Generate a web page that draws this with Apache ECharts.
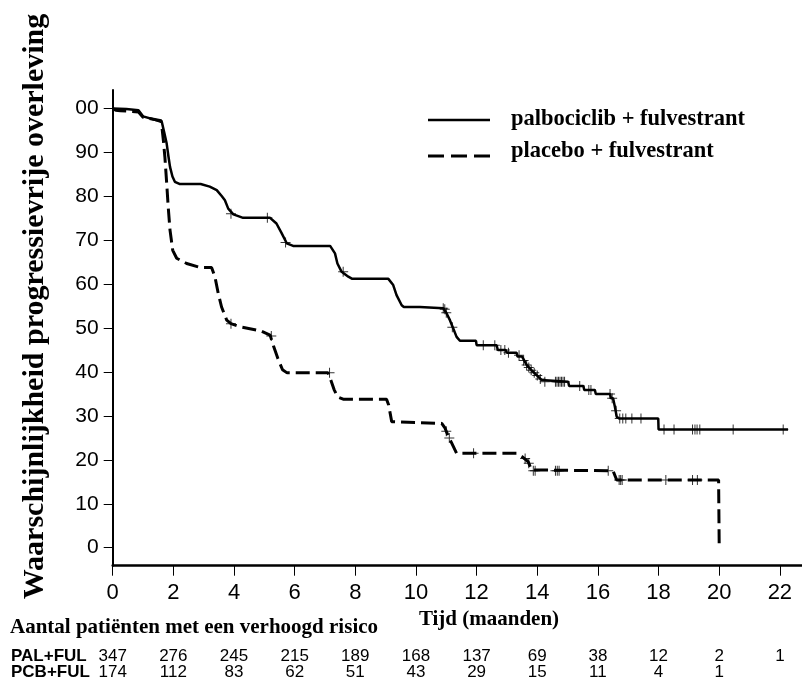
<!DOCTYPE html>
<html>
<head>
<meta charset="utf-8">
<title>Progressievrije overleving</title>
<script src="https://cdn.jsdelivr.net/npm/echarts@6/dist/echarts.min.js"></script>
<style>
  html, body { margin: 0; padding: 0; background: #fff; }
  #chart { width: 802px; height: 682px; }
</style>
</head>
<body>
<div id="chart"></div>
<script>
// Kaplan-Meier curves: [maand, kans %]
const palCurve = [
  [0, 100], [0.45, 99.9], [0.85, 99.6], [1.0, 98.2], [1.45, 97.3], [1.62, 96.9],
  [1.7, 94.5], [1.78, 92], [1.84, 89], [1.89, 86.7], [1.97, 84.5], [2.05, 83.3],
  [2.2, 82.8], [2.9, 82.8], [3.2, 82.2], [3.43, 81.4], [3.6, 80], [3.7, 79.1],
  [3.81, 77.2], [3.98, 75.9], [4.3, 75.1], [5.19, 75.1], [5.4, 73.8], [5.57, 71.6],
  [5.74, 69.3], [5.95, 68.7], [7.17, 68.7], [7.33, 67], [7.41, 64.7], [7.55, 62.8],
  [7.77, 61.7], [7.9, 61.2], [9.09, 61.2], [9.25, 59.8], [9.36, 57.5], [9.53, 55.2],
  [9.6, 54.8], [10.13, 54.8], [10.15, 54.5], [10.9, 54.5], [11.0, 53.5], [11.12, 51.8],
  [11.23, 49.9], [11.34, 48.0], [11.45, 47.1], [11.98, 47.1], [12.0, 46.1], [12.66, 46.1],
  [12.7, 45], [12.96, 45], [13.0, 44.4], [13.32, 44.4], [13.35, 43.5], [13.5, 43.5],
  [13.65, 41.6], [13.81, 40.4], [13.98, 39.3], [14.14, 38.2], [14.2, 37.8], [15.02, 37.8],
  [15.05, 36.8], [15.52, 36.8], [15.55, 35.9], [15.9, 35.9], [15.93, 35], [16.4, 35],
  [16.43, 34], [16.5, 34], [16.56, 32.1], [16.62, 29.8], [16.7, 29.4], [17.99, 29.4],
  [18.0, 26.9], [22.27, 26.9]
]
const pcbCurve = [
  [0, 100], [0.1, 99.6], [0.25, 99.5], [0.85, 99.2], [1.0, 98], [1.3, 97.6], [1.6, 97.2],
  [1.67, 92.8], [1.72, 89], [1.78, 83], [1.83, 77.6], [1.89, 72.3], [1.98, 67.7],
  [2.11, 65.9], [2.44, 64.7], [2.88, 63.8], [3.26, 63.8], [3.37, 61.7], [3.48, 57.9],
  [3.59, 54.8], [3.76, 51.8], [3.9, 51], [4.2, 50.3], [4.86, 49.4], [5.19, 48.4],
  [5.3, 46], [5.45, 43], [5.6, 40.5], [5.75, 39.8], [7.1, 39.8], [7.2, 38], [7.3, 36],
  [7.42, 34.3], [7.6, 33.8], [9.03, 33.8], [9.1, 32.5], [9.2, 28.7], [9.25, 28.3],
  [10.85, 28.3], [10.96, 27.2], [11.07, 25.3], [11.18, 23.8], [11.34, 21.5], [13.32, 21.5],
  [13.5, 20.7], [13.7, 19.6], [13.81, 17.7], [13.85, 17.5], [16.5, 17.5], [16.62, 15.4],
  [19.98, 15.4], [20.0, 0]
]
// gecensureerde patiënten (+)
const palCensor = [
  [3.9, 76], [5.1, 75.1], [5.7, 69.5], [7.6, 62.8], [10.9, 54.5], [10.95, 54.3], [11.0, 53.5],
  [11.2, 50.2], [12.22, 46.1], [12.6, 46.1], [12.8, 45], [12.93, 45], [13.05, 44.4],
  [13.4, 43.8], [13.55, 42.6], [13.65, 41.6], [13.72, 41], [13.8, 40.4], [13.9, 39.8],
  [14.0, 39.2], [14.1, 38.4], [14.25, 37.8], [14.6, 37.8], [14.65, 37.8], [14.7, 37.8],
  [14.75, 37.8], [14.8, 37.8], [14.85, 37.8], [14.9, 37.8], [15.4, 36.8], [15.7, 35.9],
  [15.77, 35.9], [16.4, 35], [16.47, 34], [16.6, 31.2], [16.72, 29.4], [16.82, 29.4],
  [16.92, 29.4], [17.12, 29.4], [17.42, 29.4], [18.18, 26.9], [18.51, 26.9], [19.12, 26.9],
  [19.2, 26.9], [19.27, 26.9], [19.36, 26.9], [20.46, 26.9], [22.11, 26.9]
]
const pcbCensor = [
  [3.9, 51], [5.23, 48.2], [7.15, 39.8], [11.0, 26.5], [11.1, 25], [11.9, 21.5],
  [13.6, 20.3], [13.72, 19.2], [13.87, 17.5], [13.93, 17.5], [14.6, 17.5], [14.66, 17.5],
  [14.72, 17.5], [16.34, 17.5], [16.7, 15.4], [16.75, 15.4], [16.8, 15.4], [18.24, 15.4],
  [19.12, 15.4], [19.28, 15.4]
]
const xTicks = [0, 2, 4, 6, 8, 10, 12, 14, 16, 18, 20, 22]
const yTicks = [0, 10, 20, 30, 40, 50, 60, 70, 80, 90, 100]
// aantal patiënten met risico per tijdstip
const riskTimes = [0, 2, 4, 6, 8, 10, 12, 14, 16, 18, 20, 22]
const palAtRisk = [347, 276, 245, 215, 189, 168, 137, 69, 38, 12, 2, 1]
const pcbAtRisk = [174, 112, 83, 62, 51, 43, 29, 15, 11, 4, 1]

const serif = 'Liberation Serif, Times New Roman, serif'
const sans = 'Liberation Sans, Arial, sans-serif'
const plus = 'path://M4.5,0h1v4.5h4.5v1h-4.5v4.5h-1v-4.5h-4.5v-1h4.5z'

const chart = echarts.init(document.getElementById('chart'))

chart.setOption({
  animation: false,
  backgroundColor: '#fff',
  grid: { left: 112.7, top: 90, right: 0, bottom: 116.3 },
  xAxis: {
    type: 'value',
    min: 0,
    max: 22.73,
    axisLine: { onZero: false, lineStyle: { color: '#000', width: 2.5 } },
    axisTick: { customValues: xTicks, length: 10, lineStyle: { color: '#000', width: 1 } },
    axisLabel: {
      customValues: xTicks,
      margin: 16,
      color: '#000',
      fontFamily: sans,
      fontSize: 22
    },
    splitLine: { show: false }
  },
  yAxis: {
    type: 'value',
    min: -4.1,
    max: 104.2,
    axisLine: { show: true, onZero: false, lineStyle: { color: '#000', width: 2 } },
    axisTick: { show: true, customValues: yTicks, length: 9, lineStyle: { color: '#000', width: 1 } },
    axisLabel: {
      customValues: yTicks,
      margin: 14,
      padding: [6, 0, 0, 0],
      color: '#000',
      fontFamily: sans,
      fontSize: 21,
      // de "1" van 100 valt weg in het origineel
      formatter: (v) => (v === 100 ? '00' : String(v))
    },
    splitLine: { show: false }
  },
  series: [
    {
      name: 'palbociclib + fulvestrant',
      type: 'line',
      data: palCurve,
      symbol: 'none',
      lineStyle: { color: '#000', width: 2.5 },
      z: 3
    },
    {
      name: 'placebo + fulvestrant',
      type: 'line',
      data: pcbCurve,
      symbol: 'none',
      lineStyle: { color: '#000', width: 3, type: [14, 6] },
      z: 3
    },
    {
      type: 'scatter',
      data: palCensor,
      symbol: plus,
      symbolSize: 10,
      itemStyle: { color: '#000' },
      z: 4
    },
    {
      type: 'scatter',
      data: pcbCensor,
      symbol: plus,
      symbolSize: 10,
      itemStyle: { color: '#000' },
      z: 4
    }
  ]
})

// teksten, legenda en risicotabel
const graphics = [
  {
    type: 'text',
    x: 35.5,
    y: 306.5,
    rotation: Math.PI / 2,
    style: {
      text: 'Waarschijnlijkheid progressievrije overleving',
      font: 'bold 30px ' + serif,
      fill: '#000',
      align: 'center',
      verticalAlign: 'middle'
    }
  },
  {
    type: 'text',
    x: 489,
    y: 619.5,
    style: {
      text: 'Tijd (maanden)',
      font: 'bold 21px ' + serif,
      fill: '#000',
      align: 'center',
      verticalAlign: 'middle'
    }
  },
  {
    type: 'text',
    x: 10,
    y: 628,
    style: {
      text: 'Aantal patiënten met een verhoogd risico',
      font: 'bold 21px ' + serif,
      fill: '#000',
      align: 'left',
      verticalAlign: 'middle'
    }
  },
  {
    type: 'line',
    shape: { x1: 428, y1: 120, x2: 490, y2: 120 },
    style: { stroke: '#000', lineWidth: 2.5 }
  },
  {
    type: 'line',
    shape: { x1: 428, y1: 156, x2: 490, y2: 156 },
    style: { stroke: '#000', lineWidth: 3, lineDash: [16, 7] }
  },
  {
    type: 'text',
    x: 511,
    y: 119,
    style: {
      text: 'palbociclib + fulvestrant',
      font: 'bold 22.5px ' + serif,
      fill: '#000',
      align: 'left',
      verticalAlign: 'middle'
    }
  },
  {
    type: 'text',
    x: 511,
    y: 151,
    style: {
      text: 'placebo + fulvestrant',
      font: 'bold 22.5px ' + serif,
      fill: '#000',
      align: 'left',
      verticalAlign: 'middle'
    }
  },
  {
    type: 'text',
    x: 11,
    y: 656,
    style: { text: 'PAL+FUL', font: 'bold 17px ' + sans, fill: '#000', align: 'left', verticalAlign: 'middle' }
  },
  {
    type: 'text',
    x: 11,
    y: 672,
    style: { text: 'PCB+FUL', font: 'bold 17px ' + sans, fill: '#000', align: 'left', verticalAlign: 'middle' }
  }
]

riskTimes.forEach((t, i) => {
  const x = chart.convertToPixel({ xAxisIndex: 0 }, t)
  if (palAtRisk[i] !== undefined) {
    graphics.push({
      type: 'text',
      x: x,
      y: 656,
      style: { text: String(palAtRisk[i]), font: '17px ' + sans, fill: '#000', align: 'center', verticalAlign: 'middle' }
    })
  }
  if (pcbAtRisk[i] !== undefined) {
    graphics.push({
      type: 'text',
      x: x,
      y: 672,
      style: { text: String(pcbAtRisk[i]), font: '17px ' + sans, fill: '#000', align: 'center', verticalAlign: 'middle' }
    })
  }
})

chart.setOption({ graphic: graphics })
</script>
</body>
</html>
